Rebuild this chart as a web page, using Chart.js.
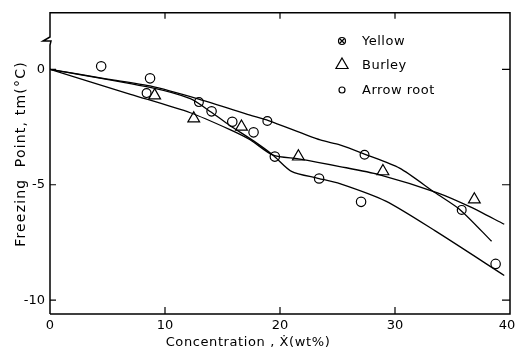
<!DOCTYPE html>
<html>
<head>
<meta charset="utf-8">
<script src="https://cdn.jsdelivr.net/npm/chart.js@4/dist/chart.umd.min.js"></script>
<style>
html,body{margin:0;padding:0;background:#fff;}
#wrap{position:relative;width:518px;height:352px;}
</style>
</head>
<body>
<div id="wrap"><canvas id="c" width="518" height="352"></canvas></div>
<script>
// ---- data ----
const xTicks = [0, 10, 20, 30, 40];
const yTicks = [0, -5, -10];

const yellowX = [8.4, 12.95, 18.9, 27.35, 35.8];
const yellowY = [-1.03, -1.42, -2.24, -3.70, -6.09];

const burleyX = [9.1, 12.5, 16.65, 21.6, 28.95, 36.9];
const burleyY = [-1.13, -2.13, -2.49, -3.78, -4.42, -5.64];

const arrowX = [4.45, 8.7, 14.05, 15.85, 17.7, 19.55, 23.4, 27.05, 38.75];
const arrowY = [0.13, -0.39, -1.82, -2.27, -2.73, -3.78, -4.73, -5.74, -8.43];

// fitted (hand-drawn) curves
const yellowCurveX = [0, 5, 8.7, 13, 17.4, 19, 23.5, 25.2, 27.4, 30.4, 33.5, 35.7, 38.4];
const yellowCurveY = [0, -0.42, -0.72, -1.3, -1.98, -2.22, -3.06, -3.27, -3.68, -4.28, -5.35, -6.1, -7.45];

const burleyCurveX = [0, 7, 12.2, 15.6, 17.4, 19.4, 21.6, 25.2, 28.6, 33.7, 36.5, 39.5];
const burleyCurveY = [0, -1.08, -1.88, -2.6, -3.05, -3.72, -3.88, -4.21, -4.56, -5.35, -5.95, -6.71];

const arrowCurveX = [0, 8.7, 12.2, 14, 15.6, 17.7, 19.4, 21, 23.3, 25.2, 29.2, 33.5, 39.5];
const arrowCurveY = [0, -0.78, -1.27, -1.85, -2.42, -3.1, -3.72, -4.42, -4.72, -4.95, -5.71, -7.0, -8.93];

const legendLabels = ["Yellow", "Burley", "Arrow root"];
const xTitle = "Concentration , \u1E8A(wt%)";
const yTitle = "Freezing  Point, tm(\u00B0C)";

const pts = (xs, ys) => xs.map((x, i) => ({x: x, y: ys[i]}));
const FONT = '"DejaVu Sans", sans-serif';

const curve = (xs, ys) => ({
  type: 'line', data: pts(xs, ys), borderColor: '#000', borderWidth: 1.3,
  pointRadius: 0, tension: 0.25, fill: false
});
const marks = (xs, ys, style, r) => ({
  type: 'scatter', data: pts(xs, ys), pointStyle: style, pointRadius: r, pointHoverRadius: r,
  borderColor: '#000', backgroundColor: '#fff', borderWidth: 1.2
});

const deco = {
  id: 'deco',
  afterDraw(chart) {
    const ctx = chart.ctx, a = chart.chartArea;
    const xs = chart.scales.x, ys = chart.scales.y;
    ctx.save();
    ctx.strokeStyle = '#000';
    ctx.lineWidth = 1.5;
    // frame with axis break on the left
    const by = 37;
    ctx.beginPath();
    ctx.moveTo(a.left, a.bottom);
    ctx.lineTo(a.right, a.bottom);
    ctx.lineTo(a.right, a.top);
    ctx.lineTo(a.left, a.top);
    ctx.lineTo(a.left, by);
    ctx.lineTo(a.left - 7, by + 4);
    ctx.lineTo(a.left + 1, by + 4);
    ctx.lineTo(a.left, by + 8);
    ctx.lineTo(a.left, a.bottom);
    ctx.stroke();
    // inward ticks
    ctx.lineWidth = 1.2;
    ctx.beginPath();
    xTicks.forEach(v => {
      const p = xs.getPixelForValue(v);
      if (v !== 0 && v !== 40) {
        ctx.moveTo(p, a.bottom); ctx.lineTo(p, a.bottom - 7);
        ctx.moveTo(p, a.top); ctx.lineTo(p, a.top + 6);
      }
    });
    yTicks.forEach(v => {
      const p = ys.getPixelForValue(v);
      ctx.moveTo(a.left, p); ctx.lineTo(a.left + 6, p);
      ctx.moveTo(a.right, p); ctx.lineTo(a.right - 8, p);
    });
    ctx.stroke();

    // x tick labels
    ctx.fillStyle = '#000';
    ctx.font = '13px ' + FONT;
    ctx.textAlign = 'center';
    ctx.textBaseline = 'middle';
    xTicks.forEach(v => {
      const p = xs.getPixelForValue(v);
      ctx.fillText(String(v), p - (v === 40 ? 3 : 0), a.bottom + 12);
    });

    // legend
    const lx = 342, ly = [41, 65, 90];
    const H = Chart.helpers;
    ctx.lineWidth = 1.2;
    ctx.fillStyle = '#fff';
    H.drawPoint(ctx, {pointStyle: 'circle', radius: 3.5, borderWidth: 1.2}, lx, ly[0]);
    H.drawPoint(ctx, {pointStyle: 'crossRot', radius: 3.5, borderWidth: 1.2}, lx, ly[0]);
    H.drawPoint(ctx, {pointStyle: 'triangle', radius: 7, borderWidth: 1.2}, lx, ly[1]);
    H.drawPoint(ctx, {pointStyle: 'circle', radius: 3, borderWidth: 1.2}, lx, ly[2]);
    ctx.fillStyle = '#000';
    ctx.font = '13px ' + FONT;
    ctx.textAlign = 'left';
    ctx.textBaseline = 'middle';
    ctx.letterSpacing = '0.5px';
    legendLabels.forEach((t, i) => ctx.fillText(t, 362, ly[i] + 1));

    // axis titles
    ctx.font = '13px ' + FONT;
    ctx.textAlign = 'center';
    ctx.textBaseline = 'middle';
    ctx.letterSpacing = '0.6px';
    ctx.fillText(xTitle, 248, 343);
    ctx.save();
    ctx.translate(21, 154);
    ctx.rotate(-Math.PI / 2);
    ctx.font = '14px ' + FONT;
    ctx.letterSpacing = '1.2px';
    ctx.fillText(yTitle, 0, 0);
    ctx.restore();
    ctx.restore();
  }
};

new Chart(document.getElementById('c'), {
  data: {
    datasets: [
      curve(yellowCurveX, yellowCurveY),
      curve(burleyCurveX, burleyCurveY),
      curve(arrowCurveX, arrowCurveY),
      marks(yellowX, yellowY, 'circle', 4.4),
      Object.assign(marks(yellowX, yellowY, 'crossRot', 4.4), {backgroundColor: 'rgba(0,0,0,0)'}),
      marks(burleyX, burleyY, 'triangle', 6.8),
      marks(arrowX, arrowY, 'circle', 4.7)
    ]
  },
  options: {
    responsive: false,
    animation: false,
    events: [],
    layout: {padding: {top: 10, right: 7, left: 0, bottom: 0}},
    plugins: {legend: {display: false}, tooltip: {enabled: false}},
    scales: {
      x: {
        type: 'linear', min: 0, max: 40,
        afterBuildTicks: s => { s.ticks = xTicks.map(v => ({value: v})); },
        afterFit: s => { s.height = 38; },
        grid: {display: false, drawTicks: false},
        border: {display: false},
        ticks: {display: false}
      },
      y: {
        type: 'linear', min: -10.6, max: 2.45,
        afterBuildTicks: s => { s.ticks = yTicks.map(v => ({value: v})); },
        afterFit: s => { s.width = 50; },
        grid: {display: false, drawTicks: false},
        border: {display: false},
        ticks: {padding: 5, color: '#000', font: {size: 13, family: FONT}}
      }
    }
  },
  plugins: [deco]
});
</script>
</body>
</html>
